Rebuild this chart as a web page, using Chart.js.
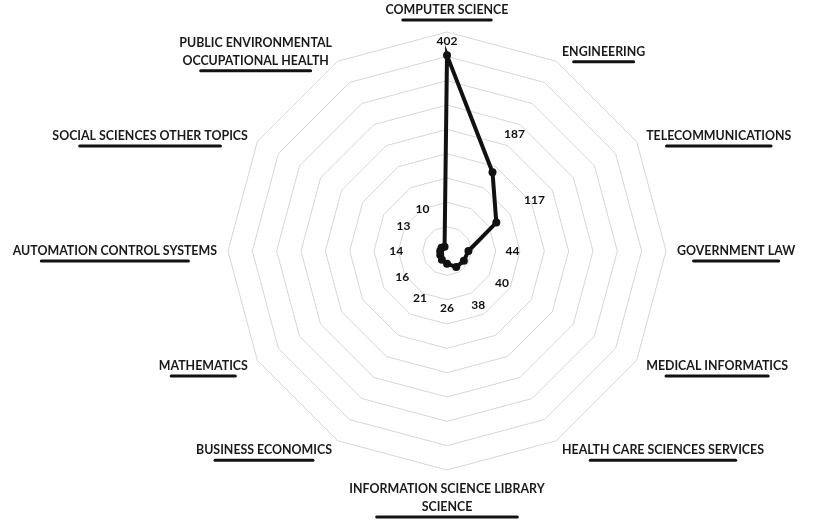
<!DOCTYPE html>
<html><head><meta charset="utf-8">
<script src="https://cdn.jsdelivr.net/npm/chart.js@4/dist/chart.umd.min.js"></script>
<style>html,body{margin:0;padding:0;background:#fff}#wrap{width:818px;height:524px}</style>
</head><body><div id="wrap"><canvas id="c" width="818" height="524"></canvas></div>
<script>
const categories = [
  ['COMPUTER SCIENCE'],
  ['ENGINEERING'],
  ['TELECOMMUNICATIONS'],
  ['GOVERNMENT LAW'],
  ['MEDICAL INFORMATICS'],
  ['HEALTH CARE SCIENCES SERVICES'],
  ['INFORMATION SCIENCE LIBRARY', 'SCIENCE'],
  ['BUSINESS ECONOMICS'],
  ['MATHEMATICS'],
  ['AUTOMATION CONTROL SYSTEMS'],
  ['SOCIAL SCIENCES OTHER TOPICS'],
  ['PUBLIC ENVIRONMENTAL', 'OCCUPATIONAL HEALTH']
];
const records = [402, 187, 117, 44, 40, 38, 26, 21, 16, 14, 13, 10];
const scaleMax = 450;
const scaleStep = 50;

const labelPlugin = {
  id: 'customLabels',
  afterDatasetsDraw(chart) {
    const ctx = chart.ctx;
    const s = chart.scales.r;
    ctx.save();
    // value labels
    ctx.font = 'bold 12px Lato';
    ctx.fillStyle = '#111';
    ctx.textAlign = 'center';
    ctx.textBaseline = 'middle';
    records.forEach((v, i) => {
      const d = Math.min(s.getDistanceFromCenterForValue(v) + 44, s.drawingArea - 9);
      const p = s.getPointPosition(i, d);
      ctx.fillText(String(v), p.x, p.y);
    });
    // category labels
    ctx.font = 'bold 12.4px Lato';
    const lh = 18;
    const n = categories.length;
    categories.forEach((lines, i) => {
      const p = s.getPointPosition(i, s.drawingArea + 11);
      const deg = Math.round(i * 360 / n);
      const widths = lines.map(l => ctx.measureText(l).width);
      const w = Math.max(...widths);
      let cx;
      if (deg === 0 || deg === 180) cx = p.x;
      else if (deg < 180) cx = p.x + w / 2;
      else cx = p.x - w / 2;
      let firstY;
      if (deg === 0) firstY = p.y - 11 - (lines.length - 1) * lh;
      else if (deg === 180) firstY = p.y + 8;
      else firstY = p.y - (lines.length - 1) * lh / 2;
      ctx.fillStyle = '#1a1a1a';
      ctx.textAlign = 'center';
      ctx.textBaseline = 'middle';
      lines.forEach((l, k) => ctx.fillText(l, cx, firstY + k * lh));
      const uy = firstY + (lines.length - 1) * lh + 10;
      const uw = w * 0.72;
      ctx.strokeStyle = '#111';
      ctx.lineWidth = 3;
      ctx.lineCap = 'round';
      ctx.beginPath();
      ctx.moveTo(cx - uw / 2, uy);
      ctx.lineTo(cx + uw / 2, uy);
      ctx.stroke();
    });
    ctx.restore();
  }
};

new Chart(document.getElementById('c'), {
  type: 'radar',
  data: {
    labels: categories.map(c => c.join(' ')),
    datasets: [{
      data: records,
      borderColor: '#111',
      backgroundColor: '#111',
      borderWidth: 4,
      pointRadius: 4,
      pointBackgroundColor: '#111',
      pointBorderWidth: 0,
      fill: false,
      tension: 0
    }]
  },
  options: {
    responsive: false,
    animation: false,
    layout: { padding: { top: 32, bottom: 54, left: 228, right: 152 } },
    plugins: { legend: { display: false }, tooltip: { enabled: false } },
    scales: {
      r: {
        min: 0,
        max: scaleMax,
        ticks: { stepSize: scaleStep, display: false },
        grid: { color: '#d6d6d6', lineWidth: 1 },
        angleLines: { display: false },
        pointLabels: { display: false }
      }
    }
  },
  plugins: [labelPlugin]
});
</script>
</body></html>
